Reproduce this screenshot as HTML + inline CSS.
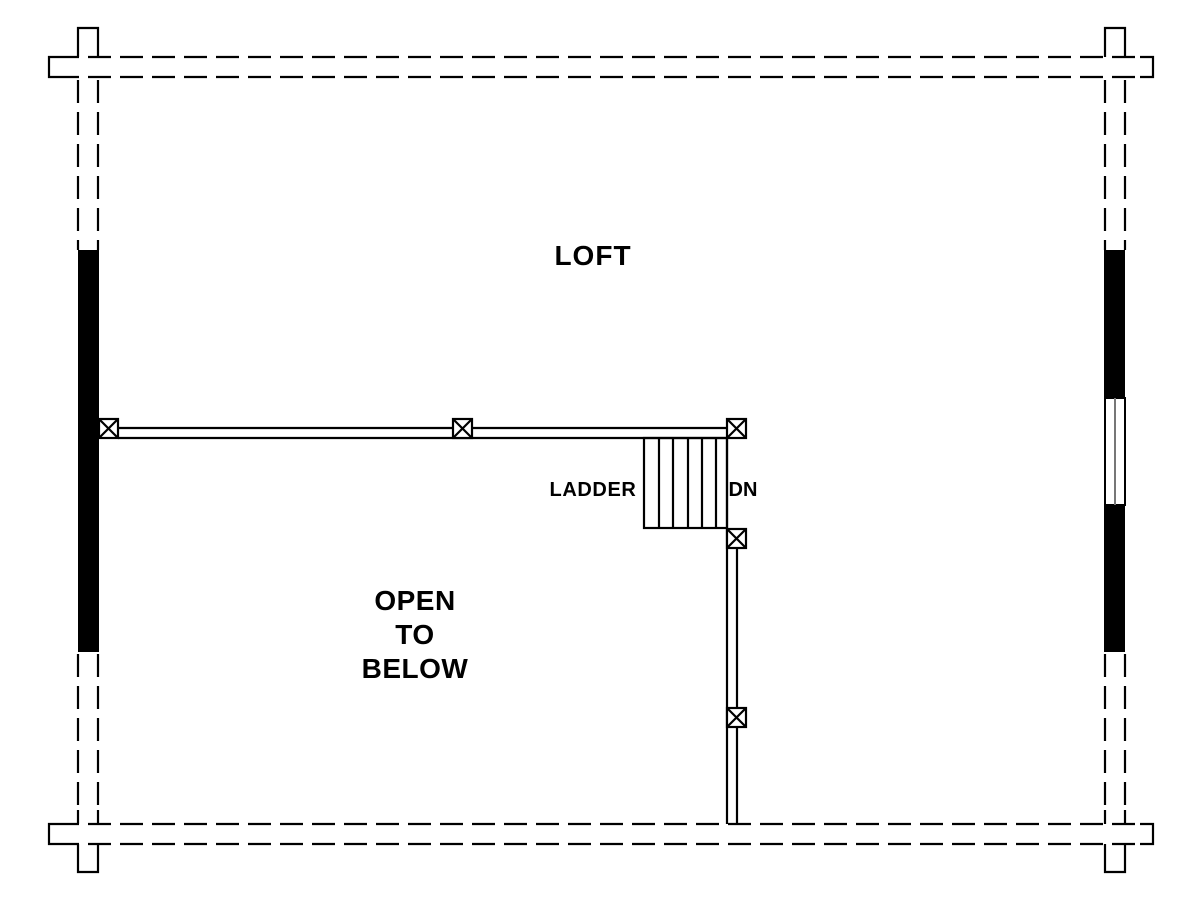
<!DOCTYPE html>
<html><head><style>
html,body{margin:0;padding:0;background:#fff;width:1200px;height:919px;overflow:hidden}
svg{display:block}
text{font-family:"Liberation Sans",sans-serif;font-weight:bold;fill:#000}
</style></head><body>
<svg width="1200" height="919" viewBox="0 0 1200 919" xmlns="http://www.w3.org/2000/svg">
<g stroke="#000" stroke-width="2.2" fill="none">
<g stroke-dasharray="23 9" stroke-dashoffset="6">
<line x1="62" y1="57" x2="1140" y2="57"/>
<line x1="62" y1="77" x2="1140" y2="77"/>
<line x1="62" y1="824" x2="1140" y2="824"/>
<line x1="62" y1="844" x2="1140" y2="844"/>
</g>
<polyline points="62,57 49,57 49,77 62,77"/>
<polyline points="62,824 49,824 49,844 62,844"/>
<polyline points="1140,57 1153,57 1153,77 1140,77"/>
<polyline points="1140,824 1153,824 1153,844 1140,844"/>
<polyline points="78,57 78,28 98,28 98,57"/>
<polyline points="1105,57 1105,28 1125,28 1125,57"/>
<polyline points="78,844 78,872 98,872 98,844"/>
<polyline points="1105,844 1105,872 1125,872 1125,844"/>
<line x1="78" y1="824" x2="78" y2="810"/><line x1="98" y1="824" x2="98" y2="810"/>
<line x1="1105" y1="824" x2="1105" y2="810"/><line x1="1125" y1="824" x2="1125" y2="810"/>
<g stroke-dasharray="23 9">
<line x1="78" y1="80" x2="78" y2="250"/><line x1="98" y1="80" x2="98" y2="250"/>
<line x1="78" y1="654" x2="78" y2="808"/><line x1="98" y1="654" x2="98" y2="808"/>
<line x1="1105" y1="80" x2="1105" y2="250"/><line x1="1125" y1="80" x2="1125" y2="250"/>
<line x1="1105" y1="654" x2="1105" y2="808"/><line x1="1125" y1="654" x2="1125" y2="808"/>
</g>
</g>
<rect x="78" y="250" width="21" height="402" fill="#000"/>
<rect x="1104" y="250" width="21" height="148" fill="#000"/>
<rect x="1104" y="505" width="21" height="147" fill="#000"/>
<g stroke="#000" fill="none">
<rect x="1105" y="398" width="20" height="107" stroke-width="2"/>
<line x1="1115" y1="398" x2="1115" y2="505" stroke="#777" stroke-width="2"/>
</g>
<g stroke="#000" stroke-width="2.2" fill="none">
<line x1="118" y1="428" x2="727" y2="428"/>
<line x1="118" y1="438" x2="727" y2="438"/>
<line x1="727" y1="438" x2="727" y2="824"/>
<line x1="737" y1="548" x2="737" y2="824"/>
<rect x="644" y="438" width="83" height="90"/>
<line x1="659" y1="438" x2="659" y2="528"/>
<line x1="673" y1="438" x2="673" y2="528"/>
<line x1="688" y1="438" x2="688" y2="528"/>
<line x1="702" y1="438" x2="702" y2="528"/>
<line x1="716" y1="438" x2="716" y2="528"/>
<g fill="#fff">
<g transform="translate(99,419)"><rect width="19" height="19"/><path d="M0 0L19 19M19 0L0 19"/></g>
<g transform="translate(453,419)"><rect width="19" height="19"/><path d="M0 0L19 19M19 0L0 19"/></g>
<g transform="translate(727,419)"><rect width="19" height="19"/><path d="M0 0L19 19M19 0L0 19"/></g>
<g transform="translate(727,529)"><rect width="19" height="19"/><path d="M0 0L19 19M19 0L0 19"/></g>
<g transform="translate(727,708)"><rect width="19" height="19"/><path d="M0 0L19 19M19 0L0 19"/></g>
</g>
</g>
<text x="593" y="265" font-size="28" text-anchor="middle" letter-spacing="1">LOFT</text>
<text x="593" y="496" font-size="20" text-anchor="middle" letter-spacing="0.6">LADDER</text>
<text x="743" y="496" font-size="20" text-anchor="middle">DN</text>
<text x="415" y="610" font-size="28" text-anchor="middle" letter-spacing="0.5">OPEN</text>
<text x="415" y="644" font-size="28" text-anchor="middle" letter-spacing="0.5">TO</text>
<text x="415" y="678" font-size="28" text-anchor="middle" letter-spacing="0.5">BELOW</text>
</svg>
</body></html>
